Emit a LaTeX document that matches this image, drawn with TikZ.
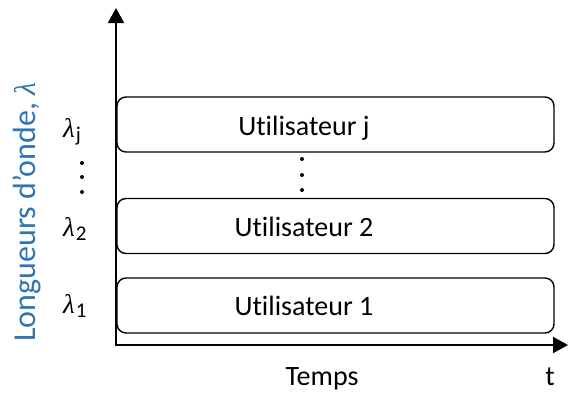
\documentclass[tikz,border=0pt]{standalone}
\usepackage{fontspec}
\setmainfont{Carlito}[Ligatures=NoCommon]
\newfontfamily\lamfont{Liberation Serif}
\usetikzlibrary{arrows.meta}
\definecolor{axisblue}{RGB}{46,117,182}
\newcommand{\lam}{{\lamfont\itshape λ}}
\newcommand{\lamsub}[1]{\lam\kern1pt\raisebox{-4pt}{\fontsize{21}{24}\selectfont #1}}
\tikzset{
  userbox/.style={draw=black, line width=1.4pt, rounded corners=9pt, minimum width=437pt, minimum height=55pt, inner sep=0pt},
  boxtext/.style={anchor=base, inner sep=0pt, font=\fontsize{28}{34}\selectfont},
  lamlabel/.style={anchor=base west, inner sep=0pt, font=\fontsize{27}{30}\selectfont},
  axisline/.style={line width=1.8pt, -{Triangle[length=15pt,width=16pt]}},
  dotmark/.style={circle, fill=black, inner sep=0pt, minimum size=4pt}
}
\begin{document}
\begin{tikzpicture}[x=1pt,y=-1pt]
\useasboundingbox (0,0) rectangle (568,392);
% axes
\coordinate (O) at (116,345);
\coordinate (ytop) at (116,8);
\coordinate (xend) at (568,345);
\draw[axisline] (O) -- (ytop);
\draw[axisline] ([xshift=-0.9pt]O) -- (xend);
% boxes
\node[userbox] (uj) at (335.5,124.5) {};
\node[userbox] (u2) at (335.5,226) {};
\node[userbox] (u1) at (335.5,305.5) {};
\node[boxtext] (tj) at (304,135) {Utilisateur j};
\node[boxtext] (t2) at (304,236) {Utilisateur 2};
\node[boxtext] (t1) at (304,315.5) {Utilisateur 1};
% middle dots
\node[dotmark] (m1) at (302,159) {};
\node[dotmark] (m2) at (302,175) {};
\node[dotmark] (m3) at (302,190) {};
% lambda labels
\node[lamlabel] (lj) at (63,137) {\lamsub{j}};
\node[lamlabel] (l2) at (63,236) {\lamsub{2}};
\node[lamlabel] (l1) at (63,313) {\lamsub{1}};
\node[dotmark] (d1) at (82,163) {};
\node[dotmark] (d2) at (82,177) {};
\node[dotmark] (d3) at (82,192) {};
% axis labels
\node[rotate=90, text=axisblue, inner sep=0pt, font=\fontsize{32}{38}\selectfont] (ylab) at (27,212) {Longueurs d’onde, {\fontsize{30}{34}\selectfont\lam}};
\node[boxtext] (temps) at (322,385) {Temps};
\node[boxtext] (t) at (550,385) {t};
\end{tikzpicture}
\end{document}
